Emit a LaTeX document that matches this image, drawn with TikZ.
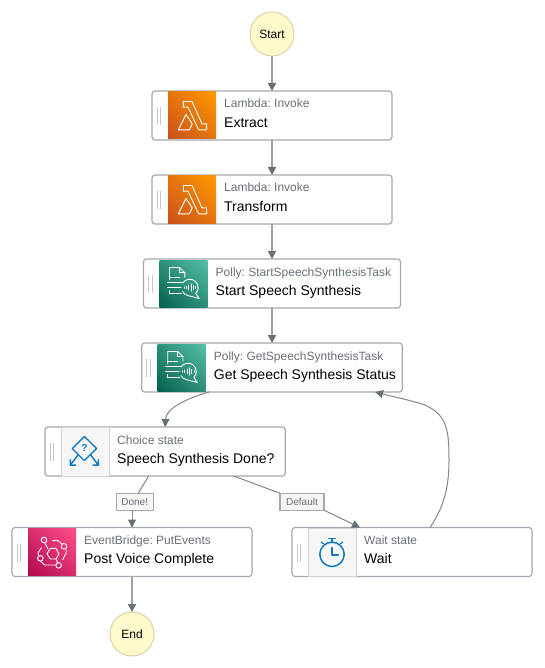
\documentclass[tikz,border=0pt]{standalone}
\usepackage{fontspec}
\setmainfont{Liberation Sans}
\usetikzlibrary{arrows.meta,shadings,calc}
\definecolor{edgec}{HTML}{80878E}
\definecolor{stemc}{HTML}{9BA1A7}
\definecolor{tipc}{HTML}{687078}
\definecolor{boxc}{HTML}{A3A9AE}
\definecolor{subc}{HTML}{687078}
\definecolor{gripc}{HTML}{C4C8CB}
\definecolor{termfill}{HTML}{FFF9CC}
\definecolor{termline}{HTML}{D8D2A6}
\definecolor{iconblue}{HTML}{0F78C2}
\tikzset{
 x=1pt,y=-1pt,
 statebox/.style={draw=boxc,line width=1.2pt,outer sep=0pt,rounded corners=3pt,fill=white,minimum height=49pt,inner sep=0pt,anchor=north west},
 term/.style={circle,draw=termline,line width=1pt,outer sep=0pt,fill=termfill,minimum size=44pt,inner sep=0pt,font=\fontsize{12}{14}\selectfont},
 subt/.style={anchor=base west,inner sep=0pt,text=subc,font=\fontsize{12}{14}\selectfont},
 titlet/.style={anchor=base west,inner sep=0pt,text=black,font=\fontsize{14}{16}\selectfont},
 edgel/.style={draw=boxc,line width=1.2pt,outer sep=0pt,fill=white!96!black,inner sep=0pt,minimum height=17pt,text=subc,font=\fontsize{10}{12}\selectfont},
 conn/.style={draw=edgec,line width=1pt,-{Triangle[width=8pt,length=8pt,color=tipc]}},
 stem/.style={draw=stemc,line width=1.7pt,-{Triangle[width=8pt,length=8pt,color=tipc]}},
 connp/.style={draw=edgec,line width=1pt},
 wl/.style={draw=white,line width=.9pt,line join=round,line cap=round},
 bl/.style={draw=iconblue,line width=1.3pt,line join=round,line cap=round},
 iconunits/.style={shift={(-26,-25)},x=.33333pt,y=-.33333pt},
}
% icons: drawn in units of a 156-wide crop, centred on (78,75)
\newcommand{\icLambda}{\begin{scope}[iconunits]
 \draw[wl] (52,33) -- (78,33) -- (108,100) -- (122,100) -- (122,118) -- (98,118) -- (66,50) -- (52,50) -- cycle;
 \draw[wl] (60,72) -- (37,118) -- (70,118) -- (79,100) -- cycle;
 \end{scope}}
\newcommand{\icPolly}{\begin{scope}[iconunits]
 \draw[wl] (36,64) -- (36,27) -- (66,27) -- (82,43) -- (82,56);
 \draw[wl] (66,27) -- (66,43) -- (82,43);
 \draw[wl] (36,58) -- (48,58) (52,58) -- (66,58);
 \draw[wl] (30,72) -- (74,72);
 \draw[wl] (30,88) -- (70,88);
 \draw[wl] (36,96) -- (36,104) -- (72,104);
 \draw[wl] (76.5,72.7) arc[start angle=215,end angle=405,radius=25] -- (125,120) -- (92.7,111.6) arc[start angle=100,end angle=150,radius=25];
 \foreach \xx/\hh in {80/4,87/8,94/14,101/22,108/12,115/5}{\draw[wl,line width=.8pt] (\xx,{87-\hh/2}) -- (\xx,{87+\hh/2});}
 \end{scope}}
\newcommand{\icChoice}{\begin{scope}[iconunits]
 \draw[bl] (76,30) -- (113,66) -- (76,102) -- (40,66) -- cycle;
 \draw[bl,line width=1.4pt] (58,84) -- (34,116) (34,100) -- (34,116) -- (50,116);
 \draw[bl,line width=1.4pt] (94,84) -- (118,116) (118,100) -- (118,116) -- (102,116);
 \node[inner sep=0pt,text=iconblue,font=\fontsize{10}{10}\selectfont\bfseries] (qmark) at (76,65) {?};
 \end{scope}}
\newcommand{\icEvents}{\begin{scope}[iconunits]
 \draw[wl] (63,81) -- (73,64) -- (90,64) -- (99,81) -- (90,96) -- (73,96) -- cycle;
 \draw[wl] (54,39) circle[radius=8.4];
 \draw[wl] (114,58) circle[radius=8.4];
 \draw[wl] (43,94) circle[radius=8.4];
 \draw[wl] (98,115) circle[radius=8.4];
 \draw[wl] (56,47) -- (66,66);
 \draw[wl] (80,41) -- (96,41) -- (107,50);
 \draw[wl] (120,66) -- (120,78) -- (110,98);
 \draw[wl] (46,62) -- (36,78) -- (38,87);
 \draw[wl] (44,103) -- (56,114) -- (88,114);
 \draw[wl] (90,97) -- (96,107);
 \end{scope}}
\newcommand{\icWait}{\begin{scope}[iconunits]
 \draw[bl,line width=1.5pt] (78,82) circle[radius=36.6];
 \draw[bl,line width=1.5pt] (78,62) -- (78,84) -- (97,84);
 \draw[bl] (78,45) -- (78,36) (68,35) -- (88,35);
 \draw[bl] (52,50) -- (46,45) (104,50) -- (110,45);
 \end{scope}}
% \stbox{name}{left}{top}{width}{icon background}{icon}{sub}{title}
\newcommand{\stbox}[8]{%
 \node[statebox,minimum width=#4 pt] (#1) at (#2,#3) {};
 \draw[gripc,line width=1pt] ($(#1.north west)+(5,16)$) -- ++(0,18) ($(#1.north west)+(8.5,16)$) -- ++(0,18);
 \begin{scope}[shift={($(#1.north west)+(40,24.5)$)}]
 #5
 #6
 \end{scope}
 \node[subt] (#1sub) at ($(#1.north west)+(72,17)$) {#7};
 \node[titlet] (#1title) at ($(#1.north west)+(72,36.4)$) {#8};}
\newcommand{\bgOrange}{\path[shade,shading=bilinear interpolation,lower left={rgb,255:red,200;green,81;blue,27},upper right={rgb,255:red,255;green,153;blue,0},upper left={rgb,255:red,228;green,117;blue,14},lower right={rgb,255:red,228;green,117;blue,14}] (-24,-23.5) rectangle (24,23.5);}
\newcommand{\bgTeal}{\path[shade,shading=bilinear interpolation,lower left={rgb,255:red,5;green,95;blue,78},upper right={rgb,255:red,86;green,192;blue,167},upper left={rgb,255:red,45;green,144;blue,122},lower right={rgb,255:red,45;green,144;blue,122}] (-24,-23.5) rectangle (24,23.5);}
\newcommand{\bgPink}{\path[shade,shading=bilinear interpolation,lower left={rgb,255:red,176;green,8;blue,77},upper right={rgb,255:red,255;green,79;blue,139},upper left={rgb,255:red,216;green,44;blue,108},lower right={rgb,255:red,216;green,44;blue,108}] (-24,-23.5) rectangle (24,23.5);}
\newcommand{\bgPlain}{\path[fill=black!3.5,draw=black!17,line width=.8pt] (-24,-24) rectangle (24,24.5);}
\begin{document}
\frenchspacing
\begin{tikzpicture}
\useasboundingbox (0,0) rectangle (544,668);
\fill[white] (0,0) rectangle (544,668);
\node[term] (start) at (272,34) {Start};
\node[term] (end) at (132,634) {End};
\stbox{extract}{152}{91}{240}{\bgOrange}{\icLambda}{Lambda: Invoke}{Extract}
\stbox{transform}{152}{175}{240}{\bgOrange}{\icLambda}{Lambda: Invoke}{Transform}
\stbox{startss}{143.5}{259}{257}{\bgTeal}{\icPolly}{Polly: StartSpeechSynthesisTask}{Start Speech Synthesis}
\stbox{getss}{141.7}{343}{260.6}{\bgTeal}{\icPolly}{Polly: GetSpeechSynthesisTask}{Get Speech Synthesis Status}
\stbox{choice}{45}{427}{240.3}{\bgPlain}{\icChoice}{Choice state}{Speech Synthesis Done?}
\stbox{post}{12}{527.5}{240}{\bgPink}{\icEvents}{EventBridge: PutEvents}{Post Voice Complete}
\stbox{wait}{292}{527.5}{240}{\bgPlain}{\icWait}{Wait state}{Wait}
\node[edgel,minimum width=37pt] (done) at (134.7,501.7) {Done!};
\node[edgel,minimum width=44pt] (default) at (302,501.7) {Default};
\draw[stem] (start) -- (extract);
\draw[stem] (extract) -- (transform);
\draw[stem] (transform) -- (startss);
\draw[stem] (startss) -- (getss);
\draw[stem] (post) -- (end);
\draw[conn] ([xshift=-63pt]getss.south) .. controls (188,398) and (166,408) .. (choice.north);
\draw[connp] ([xshift=-16.5pt]choice.south) -- ([xshift=3.6pt]done.north);
\draw[conn] (done.south -| post.north) -- (post.north);
\draw[connp] ([xshift=68.5pt]choice.south) -- (default.north west);
\draw[conn] (default.south east) -- ([xshift=-52pt]wait.north);
\draw[conn] ([xshift=18pt]wait.north) .. controls (443,508) and (449,490) .. (449,460) .. controls (449,430) and (447,415) .. (425,405) .. controls (410,400) and (390,396) .. ([xshift=103pt]getss.south);
\end{tikzpicture}
\end{document}
